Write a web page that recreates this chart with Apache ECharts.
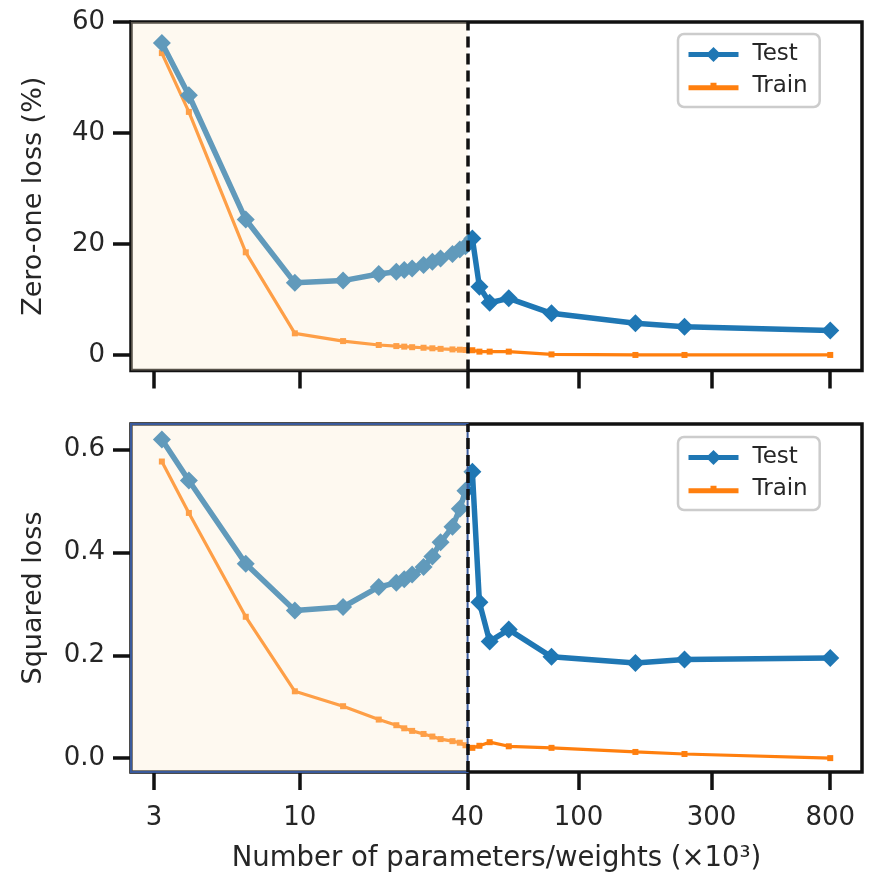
<!DOCTYPE html>
<html>
<head>
<meta charset="utf-8">
<script src="https://cdn.jsdelivr.net/npm/echarts@6/dist/echarts.min.js"></script>
<style>
  html, body { margin: 0; padding: 0; background: #ffffff; }
  #chart { width: 869px; height: 878px; }
</style>
</head>
<body>
<div id="chart"></div>
<script>
// ---- data (number of parameters in thousands) ----
const xParams = [3.2, 4.0, 6.4, 9.6, 14.3, 19.2, 22.2, 23.7, 25.3, 27.8, 29.9, 32.0, 35.3, 37.5, 39.3, 41.6, 44.1, 48.0, 56.2, 80, 160, 240, 800];
const zeroOneTest  = [56.2, 46.8, 24.4, 13.0, 13.4, 14.6, 15.0, 15.3, 15.6, 16.2, 16.8, 17.4, 18.2, 19.0, 19.6, 21.0, 12.3, 9.4, 10.2, 7.5, 5.7, 5.1, 4.4];
const zeroOneTrain = [54.4, 43.8, 18.5, 3.9, 2.5, 1.8, 1.6, 1.5, 1.4, 1.3, 1.2, 1.1, 1.0, 0.95, 0.9, 0.85, 0.6, 0.6, 0.6, 0.1, 0.0, 0.0, 0.0];
const squaredTest  = [0.620, 0.540, 0.378, 0.287, 0.294, 0.333, 0.341, 0.348, 0.357, 0.372, 0.392, 0.420, 0.450, 0.485, 0.520, 0.557, 0.303, 0.227, 0.250, 0.197, 0.185, 0.192, 0.195];
const squaredTrain = [0.577, 0.477, 0.275, 0.130, 0.101, 0.075, 0.064, 0.058, 0.053, 0.047, 0.042, 0.037, 0.033, 0.030, 0.025, 0.020, 0.024, 0.031, 0.023, 0.020, 0.012, 0.008, 0.000];
const xTicks = [3, 10, 40, 100, 300, 800];
const zeroOneTicks = [0, 20, 40, 60];
const squaredTicks = [0, 0.2, 0.4, 0.6];
const thresholdX = 40;
const xMin = 2.48, xMax = 1040;
const zeroOneRange = [-2.8, 60];
const squaredRange = [-0.027, 0.65];
const seriesNames = ['Test', 'Train'];
const xLabel = 'Number of parameters/weights (×10³)';
const yLabels = ['Zero-one loss (%)', 'Squared loss'];

// ---- styles ----
const FONT = 'DejaVu Sans';
const INK = '#111111';
const TXT = '#262626';
const BLUE = '#1f77b4';
const ORANGE = '#ff7f0e';

const pair = (xs, ys) => xs.map((x, i) => [x, ys[i]]);

function xAxisCfg(gridIndex, showLabels) {
  return {
    type: 'log', logBase: 10, gridIndex, min: xMin, max: xMax,
    axisLine: { show: false, onZero: false },
    splitLine: { show: false },
    minorTick: { show: false },
    axisTick: { show: true, inside: false, customValues: xTicks, length: 18, lineStyle: { color: INK, width: 3.5 } },
    axisLabel: { show: showLabels, customValues: xTicks, margin: 33, fontFamily: FONT, fontSize: 26, color: TXT,
                 formatter: v => String(Math.round(v)) },
    name: showLabels ? xLabel : '', nameLocation: 'middle', nameGap: 73,
    nameTextStyle: { fontFamily: FONT, fontSize: 27.5, color: TXT }
  };
}
function yAxisCfg(gridIndex, range, ticks, name, fmt) {
  return {
    type: 'value', gridIndex, min: range[0], max: range[1],
    axisLine: { show: false, onZero: false },
    splitLine: { show: false },
    axisTick: { show: true, inside: false, customValues: ticks, length: 18, lineStyle: { color: INK, width: 3.5 } },
    axisLabel: { customValues: ticks, margin: 26, fontFamily: FONT, fontSize: 26, color: TXT, formatter: fmt },
    name, nameLocation: 'middle', nameGap: 84,
    nameTextStyle: { fontFamily: FONT, fontSize: 27, color: TXT }
  };
}
function testSeries(idx, ys) {
  return {
    name: 'Test', type: 'line', xAxisIndex: idx, yAxisIndex: idx, z: 3,
    data: pair(xParams, ys), symbol: 'diamond', symbolSize: 18,
    lineStyle: { color: BLUE, width: 5.5 }, itemStyle: { color: BLUE },
    emphasis: { disabled: true }, animation: false
  };
}
function trainSeries(idx, ys) {
  return {
    name: 'Train', type: 'line', xAxisIndex: idx, yAxisIndex: idx, z: 2,
    data: pair(xParams, ys), symbol: 'rect', symbolSize: 6,
    lineStyle: { color: ORANGE, width: 3.2 }, itemStyle: { color: ORANGE },
    emphasis: { disabled: true }, animation: false
  };
}
function overlaySeries(idx, withBorder) {
  return {
    type: 'line', xAxisIndex: idx, yAxisIndex: idx, data: [], silent: true, animation: false,
    markArea: {
      silent: true, z: 10,
      itemStyle: { color: 'rgba(253,235,205,0.30)', borderColor: withBorder ? '#3a5a9b' : 'transparent', borderWidth: withBorder ? 2 : 0 },
      data: [[{ xAxis: xMin }, { xAxis: thresholdX }]]
    },
    markLine: {
      silent: true, z: 12, symbol: ['none', 'none'], label: { show: false },
      lineStyle: { color: INK, type: [11, 6], width: 3.5 },
      data: [{ xAxis: thresholdX }]
    }
  };
}
function legendCfg(top) {
  return {
    orient: 'vertical', left: 678, top, padding: [9, 12, 9, 8],
    itemWidth: 50, itemHeight: 19, itemGap: 9,
    lineStyle: { width: 5 },
    backgroundColor: 'rgba(255,255,255,0.85)', borderColor: '#cccccc', borderWidth: 2.5, borderRadius: 6,
    textStyle: { fontFamily: FONT, fontSize: 23, color: TXT, padding: [0, 0, 0, 9] },
    data: [
      { name: seriesNames[0] },
      { name: seriesNames[1], icon: 'path://M0,6 L22,6 L22,3.5 L28,3.5 L28,6 L50,6 L50,11 L0,11 Z' }
    ]
  };
}

const chart = echarts.init(document.getElementById('chart'), null, { renderer: 'canvas' });
chart.setOption({
  animation: false,
  backgroundColor: '#ffffff',
  textStyle: { fontFamily: FONT },
  grid: [
    { left: 131, right: 7, top: 22, height: 348.5, show: true, borderColor: INK, borderWidth: 3.5, backgroundColor: '#ffffff' },
    { left: 131, right: 7, top: 424, height: 348, show: true, borderColor: INK, borderWidth: 3.5, backgroundColor: '#ffffff' }
  ],
  xAxis: [xAxisCfg(0, false), xAxisCfg(1, true)],
  yAxis: [
    yAxisCfg(0, zeroOneRange, zeroOneTicks, yLabels[0], v => String(Math.round(v))),
    yAxisCfg(1, squaredRange, squaredTicks, yLabels[1], v => v.toFixed(1))
  ],
  legend: [legendCfg(34), legendCfg(437)],
  series: [
    testSeries(0, zeroOneTest), trainSeries(0, zeroOneTrain), overlaySeries(0, false),
    testSeries(1, squaredTest), trainSeries(1, squaredTrain), overlaySeries(1, true)
  ]
});
</script>
</body>
</html>
